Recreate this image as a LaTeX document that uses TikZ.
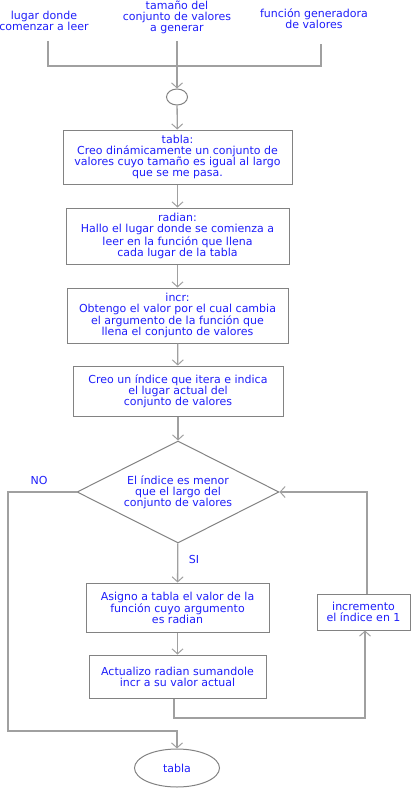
\documentclass[tikz,border=0pt]{standalone}
\usepackage{fontspec}
\setmainfont{DejaVu Sans}
\usetikzlibrary{shapes.geometric,arrows.meta}
\definecolor{txtblue}{RGB}{30,30,250}
\definecolor{conn}{RGB}{160,160,160}
\definecolor{boxline}{RGB}{130,130,130}
\tikzset{
  base/.style={font=\fontsize{11}{11}\selectfont, text=txtblue, align=center, inner sep=0pt},
  stepbox/.style={base, draw=boxline, line width=1pt, rectangle},
  lbl/.style={base},
  conline/.style={draw=conn, line width=1.3pt},
  arr/.style={conline, -{Straight Barb[length=5pt,width=11pt,line width=1pt]}},
}
\begin{document}
\begin{tikzpicture}[x=1pt,y=-1pt]
\useasboundingbox (0,0) rectangle (411,789);
% top labels
\node[lbl] (l1) at (44,20.5) {lugar donde\\comenzar a leer};
\node[lbl] (l2) at (177,17) {tamaño del\\conjunto de valores\\a generar};
\node[lbl] (l3) at (314,18.5) {función generadora\\de valores};
\coordinate (t1) at (48,41);
\coordinate (t2) at (177,41);
\coordinate (t3) at (321,44);
\coordinate (j1) at (48,66);
\coordinate (j3) at (321,66);
% start circle
\node[draw=boxline, line width=1pt, ellipse, minimum width=21pt, minimum height=16pt, inner sep=0pt] (circ) at (177,97) {};
% boxes
\node[stepbox, minimum width=229pt, minimum height=54pt] (b1) at (177.5,157) {tabla:\\Creo dinámicamente un conjunto de\\valores cuyo tamaño es igual al largo\\que se me pasa.};
\node[stepbox, minimum width=223pt, minimum height=56pt] (b2) at (177.5,236) {radian:\\Hallo el lugar donde se comienza a\\leer en la función que llena\\cada lugar de la tabla};
\node[stepbox, minimum width=221pt, minimum height=55pt] (b3) at (177.5,315.5) {incr:\\Obtengo el valor por el cual cambia\\el argumento de la función que\\llena el conjunto de valores};
\node[stepbox, minimum width=210pt, minimum height=50pt] (b4) at (178,391) {Creo un índice que itera e indica\\el lugar actual del\\conjunto de valores};
\node[base, draw=boxline, line width=1pt, diamond, aspect=2, minimum width=202pt, minimum height=102pt] (dia) at (178,492) {El índice es menor\\que el largo del\\conjunto de valores};
\node[stepbox, minimum width=183pt, minimum height=49pt] (b5) at (177.5,607.5) {Asigno a tabla el valor de la\\función cuyo argumento\\es radian};
\node[stepbox, minimum width=93pt, minimum height=36pt] (b6) at (363.5,612) {incremento\\el índice en 1};
\node[stepbox, minimum width=177pt, minimum height=43pt] (b7) at (177.5,676.5) {Actualizo radian sumandole\\incr a su valor actual};
\node[base, draw=boxline, line width=1pt, ellipse, minimum width=85pt, minimum height=38pt] (fin) at (177,768) {tabla};
% labels
\node[lbl] (no) at (39,480) {NO};
\node[lbl] (si) at (194,559) {SI};
% connectors
\draw[conline] (t1) -- (j1) -- (j3) -- (t3);
\draw[arr] (t2) -- (circ);
\draw[arr] (circ) -- (b1);
\draw[arr] (b1) -- (b2);
\draw[arr] (b2) -- (b3);
\draw[arr] (b3) -- (b4);
\draw[arr] (b4) -- (dia);
\draw[arr] (dia) -- (b5);
\draw[arr] (b5) -- (b7);
\coordinate (n1) at (8,492);
\coordinate (n2) at (8,731);
\draw[arr] (dia.west) -- (n1) -- (n2) -| (fin.north);
\coordinate (c7) at (174,718);
\coordinate (c6) at (365,718);
\draw[arr] (b7.south -| c7) -- (c7) -- (c6) -- (c6 |- b6.south);
\coordinate (c8) at (367,492);
\draw[arr] (c8 |- b6.north) -- (c8) -- (dia.east);
\end{tikzpicture}
\end{document}
